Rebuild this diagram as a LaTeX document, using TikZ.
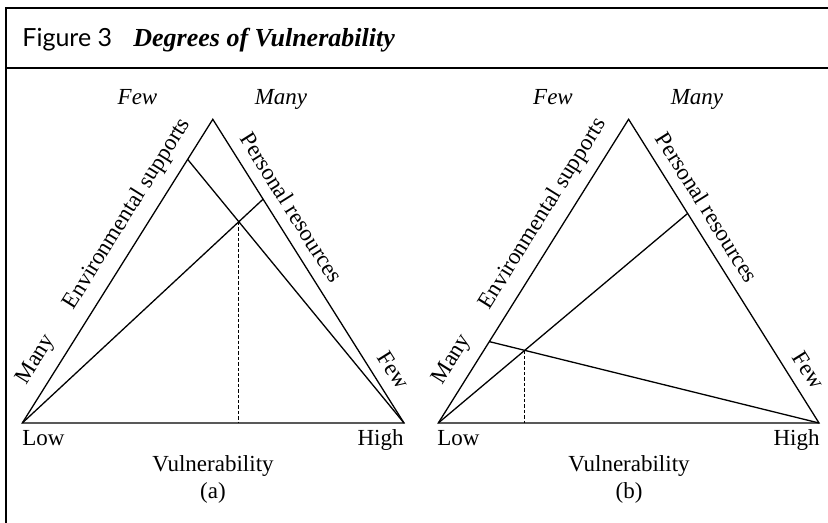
\documentclass[tikz,border=0pt]{standalone}
\usepackage{fontspec}
\setmainfont{Liberation Serif}
\newfontfamily\headsans{Lato}
\usetikzlibrary{calc}

\begin{document}
\begin{tikzpicture}[x=0.5pt,y=-0.5pt,
  side/.style={line width=0.65pt},
  rule/.style={line width=1pt},
  drop/.style={line width=0.65pt, dash pattern=on 1.7pt off 1pt},
  txt/.style={font=\fontsize{11.5}{13}\selectfont},
  slab/.style={txt, sloped, above, outer sep=2.5pt},
  ends/.style={font=\fontsize{11.5}{13}\selectfont\itshape, anchor=base, inner sep=0}]
\useasboundingbox (0,0) rectangle (828,523);
\draw[rule] (828,8.5) -- (5.5,8.5) -- (5.5,523);
\draw[rule] (5.5,68.5) -- (828,68.5);
\node[anchor=base west, inner sep=0, font=\headsans\fontsize{12.5}{14}\selectfont] (fig) at (22,47) {Figure 3};
\node[anchor=base west, inner sep=0, font=\fontsize{13}{15}\selectfont\bfseries\itshape] (title) at (133,47) {Degrees of Vulnerability};

% (a)
\coordinate (bla) at (22.3,423);
\coordinate (bra) at (404,423);
\coordinate (apa) at (212.8,119.3);
\draw[side] (bla) -- node[slab, pos=0.17] (manyA) {Many} node[slab, pos=0.65] (envA) {Environmental supports} (apa)
  -- node[slab, pos=0.325] (persA) {Personal resources} node[slab, pos=0.86] (fewA) {Few} (bra) -- cycle;
\coordinate (la) at ($(bla)!0.868!(apa)$);
\coordinate (ra) at ($(apa)!0.263!(bra)$);
\draw[side] (la) -- (bra);
\draw[side] (bla) -- (ra);
\coordinate (xa) at (intersection of la--bra and bla--ra);
\draw[drop] (xa) -- (xa |- bla);
\node[ends] (fewTopA) at (137.5,105) {Few};
\node[ends] (manyTopA) at (281,105) {Many};
\node[txt, anchor=base west, inner sep=0] (lowA) at (22,445) {Low};
\node[txt, anchor=base east, inner sep=0] (highA) at (404,445) {High};
\node[txt, anchor=base, inner sep=0] (vulA) at (213,471.5) {Vulnerability};
\node[txt, anchor=base, inner sep=0] (capA) at (213,498) {(a)};

% (b)
\coordinate (blb) at (438.3,423);
\coordinate (brb) at (819,423);
\coordinate (apb) at (628.6,119.3);
\draw[side] (blb) -- node[slab, pos=0.17] (manyB) {Many} node[slab, pos=0.65] (envB) {Environmental supports} (apb)
  -- node[slab, pos=0.325] (persB) {Personal resources} node[slab, pos=0.86] (fewB) {Few} (brb) -- cycle;
\coordinate (lb) at ($(blb)!0.268!(apb)$);
\coordinate (rb) at ($(apb)!0.31!(brb)$);
\draw[side] (lb) -- (brb);
\draw[side] (blb) -- (rb);
\coordinate (xb) at (intersection of lb--brb and blb--rb);
\draw[drop] (xb) -- (xb |- blb);
\node[ends] (fewTopB) at (553,105) {Few};
\node[ends] (manyTopB) at (697,105) {Many};
\node[txt, anchor=base west, inner sep=0] (lowB) at (437,445) {Low};
\node[txt, anchor=base east, inner sep=0] (highB) at (820,445) {High};
\node[txt, anchor=base, inner sep=0] (vulB) at (629,471.5) {Vulnerability};
\node[txt, anchor=base, inner sep=0] (capB) at (629,498) {(b)};
\end{tikzpicture}
\end{document}
